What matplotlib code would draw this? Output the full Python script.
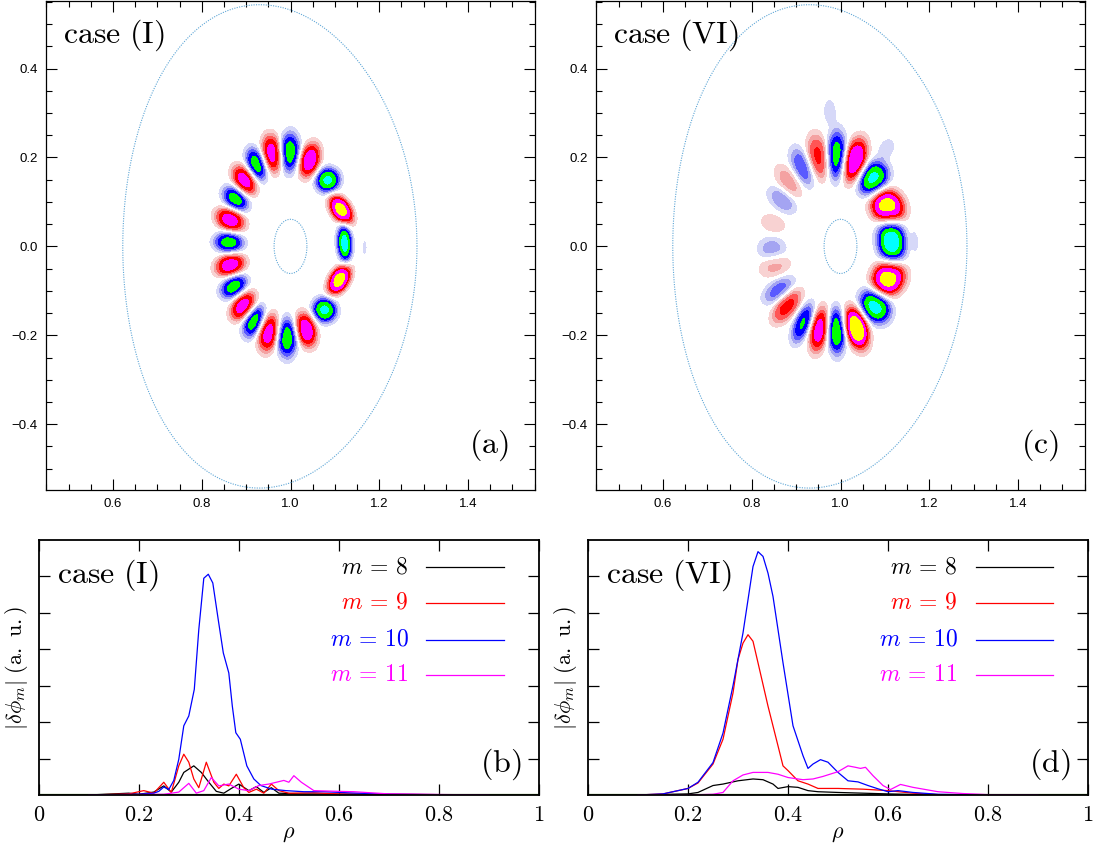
import numpy as np
import matplotlib
matplotlib.use("Agg")
import matplotlib.pyplot as plt
from matplotlib.colors import ListedColormap, BoundaryNorm

plt.rcParams['mathtext.fontset'] = 'cm'
plt.rcParams['font.family'] = ['Liberation Sans', 'DejaVu Sans']

# ---- poloidal mode structure: blob centres (R, Z), amplitude, radial / poloidal widths ----
c1_R = [0.998, 1.043, 1.084, 1.114, 1.122, 1.110, 1.077, 1.035, 0.992, 0.951,
        0.917, 0.893, 0.872, 0.864, 0.861, 0.864, 0.876, 0.896, 0.923, 0.959, 1.167]
c1_Z = [0.212, 0.194, 0.149, 0.082, 0.007, -0.075, -0.143, -0.188, -0.206, -0.195,
        -0.169, -0.134, -0.090, -0.042, 0.009, 0.060, 0.107, 0.149, 0.185, 0.209, -0.003]
c1_amp = [-0.72, 0.72, -0.85, 0.88, -0.90, 0.88, -0.85, 0.72, -0.72, 0.68,
          -0.70, 0.68, -0.70, 0.68, -0.70, 0.68, -0.70, 0.68, -0.70, 0.68, -0.14]
c1_sr = [0.028, 0.024, 0.018, 0.013, 0.011, 0.013, 0.018, 0.024, 0.028, 0.026,
         0.024, 0.022, 0.021, 0.021, 0.021, 0.021, 0.021, 0.022, 0.024, 0.026, 0.004]
c1_st = [0.015, 0.014, 0.017, 0.022, 0.026, 0.022, 0.017, 0.014, 0.015, 0.014,
         0.014, 0.014, 0.015, 0.015, 0.015, 0.015, 0.015, 0.014, 0.014, 0.014, 0.012]

c6_R = [0.991, 1.033, 1.074, 1.106, 1.115, 1.108, 1.078, 1.036, 0.991, 0.952,
        0.915, 0.879, 0.860, 0.852, 0.845, 0.848, 0.868, 0.883, 0.913, 0.950,
        0.976, 1.104, 1.168]
c6_Z = [0.206, 0.194, 0.153, 0.089, 0.011, -0.071, -0.135, -0.184, -0.191, -0.188,
        -0.173, -0.135, -0.098, -0.045, -0.004, 0.052, 0.104, 0.146, 0.179, 0.202,
        0.303, 0.221, 0.011]
c6_amp = [-0.70, 0.78, -0.85, 0.90, -0.95, 0.90, -0.88, 0.97, -0.75, 0.68,
          -0.62, 0.50, -0.38, 0.22, -0.26, 0.16, -0.30, 0.26, -0.42, 0.48,
          -0.18, -0.18, -0.16]
c6_sr = [0.038, 0.034, 0.028, 0.024, 0.022, 0.024, 0.028, 0.032, 0.036, 0.034,
         0.032, 0.030, 0.028, 0.024, 0.022, 0.020, 0.026, 0.028, 0.032, 0.034,
         0.020, 0.016, 0.006]
c6_st = [0.016, 0.017, 0.022, 0.028, 0.035, 0.028, 0.022, 0.017, 0.015, 0.014,
         0.014, 0.015, 0.016, 0.016, 0.018, 0.014, 0.016, 0.015, 0.016, 0.016,
         0.010, 0.012, 0.016]
c1_scale = 1.65
c6_scale = 1.5

# flux-surface shapes (outer boundary and inner surface)
outer_R0, outer_a, outer_kappa, outer_delta = 0.9535, 0.3315, 1.64, 0.071
inner_R0, inner_a, inner_b = 1.0, 0.037, 0.061

top_xticks = [0.6, 0.8, 1.0, 1.2, 1.4]
top_xticklabels = ['0.6', '0.8', '1.0', '1.2', '1.4']
top_yticks = [-0.4, -0.2, 0.0, 0.2, 0.4]
top_yticklabels = ['\u22120.4', '\u22120.2', '0.0', '0.2', '0.4']

levels = [-10, -0.97, -0.8, -0.6, -0.45, -0.32, -0.2, -0.08,
          0.08, 0.2, 0.32, 0.45, 0.6, 0.8, 0.97, 10]
level_colors = ['#ffffff', '#00ffff', '#00ff00', '#0000ff', '#5a5aff', '#a4a4f2', '#d6d8f8',
                '#ffffff',
                '#f8d2d2', '#f4a2a2', '#ff5555', '#ff0000', '#ff00ff', '#ffff00', '#ffffff']

# ---- radial mode amplitudes ----
modes = ['8', '9', '10', '11']
mode_colors = ['black', '#ff0000', '#0000ff', '#ff00ff']

c1_rho = {
    '8': [0.1, 0.18, 0.2, 0.23, 0.25, 0.265, 0.28, 0.29, 0.31, 0.325, 0.34, 0.355, 0.37,
          0.385, 0.4, 0.42, 0.435, 0.45, 0.465, 0.48, 0.52, 0.9],
    '9': [0.1, 0.18, 0.21, 0.23, 0.25, 0.265, 0.28, 0.29, 0.30, 0.31, 0.32, 0.335, 0.35,
          0.36, 0.37, 0.38, 0.395, 0.41, 0.42, 0.435, 0.45, 0.465, 0.48, 0.5, 0.55, 0.6, 0.9],
    '10': [0.1, 0.2, 0.23, 0.24, 0.25, 0.26, 0.27, 0.28, 0.29, 0.30, 0.311, 0.32, 0.33,
           0.339, 0.348, 0.359, 0.369, 0.38, 0.387, 0.394, 0.403, 0.416, 0.43, 0.444,
           0.466, 0.494, 0.53, 0.57, 0.62, 0.7, 0.9],
    '11': [0.1, 0.25, 0.28, 0.3, 0.315, 0.33, 0.345, 0.36, 0.38, 0.4, 0.42, 0.44, 0.46,
           0.475, 0.49, 0.5, 0.51, 0.525, 0.55, 0.6, 0.63, 0.7, 0.76, 0.9],
}
c1_amp_m = {
    '8': [0, 0.05, 0.02, 0.08, 0.25, 0.08, 0.35, 0.62, 0.8, 0.62, 0.35, 0.1, 0.05,
          0.18, 0.3, 0.12, 0.23, 0.07, 0.2, 0.05, 0.03, 0],
    '9': [0, 0.03, 0.12, 0.05, 0.35, 0.07, 0.8, 1.12, 0.9, 0.44, 0.2, 0.9, 0.35,
          0.18, 0.3, 0.25, 0.57, 0.2, 0.07, 0.16, 0.05, 0.3, 0.12, 0.05, 0.06, 0.03, 0],
    '10': [0, 0.02, 0.05, 0.1, 0.22, 0.15, 0.4, 0.98, 1.9, 2.17, 2.9, 4.54, 5.95,
           6.06, 5.82, 4.8, 3.9, 3.35, 2.44, 1.71, 1.53, 0.8, 0.44, 0.26,
           0.16, 0.12, 0.09, 0.09, 0.06, 0.02, 0],
    '11': [0, 0.02, 0.08, 0.32, 0.05, 0.12, 0.48, 0.25, 0.3, 0.16, 0.12, 0.26, 0.3,
           0.35, 0.4, 0.35, 0.53, 0.35, 0.12, 0.1, 0.09, 0.03, 0.02, 0],
}

c6_rho = {
    '8': [0.1, 0.2, 0.22, 0.25, 0.27, 0.3, 0.33, 0.35, 0.37, 0.38, 0.4, 0.42, 0.44,
          0.46, 0.5, 0.6, 0.7, 0.9],
    '9': [0.1, 0.15, 0.2, 0.22, 0.25, 0.27, 0.29, 0.3, 0.31, 0.32, 0.33, 0.34, 0.36,
          0.38, 0.39, 0.4, 0.42, 0.44, 0.46, 0.5, 0.55, 0.6, 0.65, 0.7, 0.9],
    '10': [0.1, 0.15, 0.2, 0.22, 0.25, 0.27, 0.29, 0.31, 0.32, 0.33, 0.34, 0.35, 0.36,
           0.37, 0.38, 0.39, 0.41, 0.43, 0.44, 0.45, 0.465, 0.48, 0.5, 0.52, 0.54,
           0.56, 0.58, 0.6, 0.62, 0.65, 0.7, 0.8, 0.9],
    '11': [0.1, 0.2, 0.25, 0.27, 0.29, 0.31, 0.33, 0.36, 0.38, 0.4, 0.43, 0.45, 0.47,
           0.5, 0.52, 0.535, 0.545, 0.555, 0.57, 0.59, 0.605, 0.625, 0.65, 0.7, 0.75,
           0.8, 0.9],
}
c6_amp_m = {
    '8': [0, 0.03, 0.07, 0.26, 0.3, 0.39, 0.44, 0.42, 0.3, 0.18, 0.23, 0.21, 0.12,
          0.09, 0.07, 0.03, 0.0, 0],
    '9': [0, 0.03, 0.18, 0.33, 0.85, 1.53, 2.8, 3.72, 4.17, 4.4, 4.22, 3.63, 2.44,
          1.35, 0.8, 0.67, 0.39, 0.3, 0.18, 0.18, 0.16, 0.12, 0.05, 0.01, 0],
    '10': [0, 0.03, 0.18, 0.35, 0.89, 1.7, 3.0, 4.45, 5.36, 6.27, 6.68, 6.55, 6.09,
           5.45, 4.54, 3.63, 1.9, 1.08, 0.73, 0.85, 0.97, 0.9, 0.62, 0.39, 0.36,
           0.26, 0.17, 0.09, 0.12, 0.07, 0.02, 0.0, 0],
    '11': [0, 0, 0.02, 0.07, 0.39, 0.55, 0.62, 0.62, 0.57, 0.48, 0.42, 0.44, 0.51,
           0.64, 0.8, 0.76, 0.73, 0.76, 0.53, 0.26, 0.15, 0.29, 0.21, 0.09, 0.04,
           0.01, 0],
}

bot_xticks = [0, 0.2, 0.4, 0.6, 0.8, 1]
bot_xticklabels = ['0', '0.2', '0.4', '0.6', '0.8', '1']
bot_yticks = [1, 2, 3, 4, 5, 6]


def mode_field(R, Z, bR, bZ, amp, sr, st, Rc, scale):
    field = np.zeros_like(R)
    for r0, z0, a, s1, s2 in zip(bR, bZ, amp, sr, st):
        ang = np.arctan2(z0, r0 - Rc)
        dR, dZ = R - r0, Z - z0
        dr = dR * np.cos(ang) + dZ * np.sin(ang)
        dt = -dR * np.sin(ang) + dZ * np.cos(ang)
        q = (dr / (s1 * scale)) ** 2 + (dt / (s2 * scale)) ** 2
        field += a * np.exp(-q ** 1.5)
    return field


def draw_surfaces(ax):
    t = np.linspace(0, 2 * np.pi, 600)
    ax.plot(outer_R0 + outer_a * np.cos(t + outer_delta * np.sin(t)),
            outer_kappa * outer_a * np.sin(t),
            color='#5ea6d6', lw=0.8, ls=(0, (1, 1.2)))
    ax.plot(inner_R0 + inner_a * np.cos(t), inner_b * np.sin(t),
            color='#5ea6d6', lw=0.8, ls=(0, (1, 1.2)))


W, H = 1096, 852
fig = plt.figure(figsize=(W / 100, H / 100), dpi=100)

def px_axes(x0, y0, x1, y1):
    return fig.add_axes([x0 / W, (H - y1) / H, (x1 - x0) / W, (y1 - y0) / H])

Rg, Zg = np.meshgrid(np.linspace(0.449, 1.551, 600), np.linspace(-0.548, 0.552, 600))
cmap = ListedColormap(level_colors)
norm = BoundaryNorm(levels, cmap.N)

top_specs = [
    (46, 535, (c1_R, c1_Z, c1_amp, c1_sr, c1_st), 0.99, c1_scale,
     r'$\mathrm{case\ (I)}$', r'$\mathrm{(a)}$'),
    (596, 1085, (c6_R, c6_Z, c6_amp, c6_sr, c6_st), 0.985, c6_scale,
     r'$\mathrm{case\ (VI)}$', r'$\mathrm{(c)}$'),
]
for x0, x1, blobs, Rc, sc, title, tag in top_specs:
    ax = px_axes(x0, 1, x1, 490)
    f = mode_field(Rg, Zg, *blobs, Rc, sc)
    ax.contourf(Rg, Zg, f, levels=levels, cmap=cmap, norm=norm)
    draw_surfaces(ax)
    ax.set_xlim(0.449, 1.551)
    ax.set_ylim(-0.548, 0.552)
    ax.set_xticks(top_xticks)
    ax.set_xticklabels(top_xticklabels)
    ax.set_yticks(top_yticks)
    ax.set_yticklabels(top_yticklabels)
    ax.set_xticks(np.arange(0.45, 1.551, 0.05), minor=True)
    ax.set_yticks(np.arange(-0.5, 0.551, 0.05), minor=True)
    ax.tick_params(which='both', direction='in', top=True, right=True, width=0.8)
    ax.tick_params(which='major', length=8, labelsize=9.5, pad=6)
    ax.tick_params(which='minor', length=4.5)
    for s in ax.spines.values():
        s.set_linewidth(0.9)
    ax.text(0.035, 0.93, title, transform=ax.transAxes, fontsize=23, va='center', ha='left')
    ax.text(0.947, 0.092, tag, transform=ax.transAxes, fontsize=23, va='center', ha='right')

bot_specs = [
    (38.7, 539, c1_rho, c1_amp_m, r'$\mathrm{case\ (I)}$', r'$\mathrm{(b)}$'),
    (588, 1088, c6_rho, c6_amp_m, r'$\mathrm{case\ (VI)}$', r'$\mathrm{(d)}$'),
]
for x0, x1, rho_d, amp_d, title, tag in bot_specs:
    ax = px_axes(x0, 540, x1, 795)
    ax.plot([0, 1], [0, 0], color='#2f6b00', lw=1.6, zorder=1)
    for m, col in zip(modes, mode_colors):
        ax.plot(rho_d[m], amp_d[m], color=col, lw=0.9, zorder=2)
    ax.set_xlim(0, 1)
    ax.set_ylim(0, 7)
    ax.set_xticks(bot_xticks)
    ax.set_xticklabels(['$' + s + '$' for s in bot_xticklabels])
    ax.set_yticks(bot_yticks)
    ax.set_yticklabels([])
    ax.tick_params(which='both', direction='in', top=True, right=True, length=8,
                   width=0.9, labelsize=16, pad=7)
    for s in ax.spines.values():
        s.set_linewidth(1.3)
    ax.set_xlabel(r'$\rho$', fontsize=16, labelpad=-2)
    ax.set_ylabel(r'$|\delta\phi_m|\ (\mathrm{a.\ u.})$', fontsize=16)
    ax.yaxis.set_label_coords(-0.018, 0.5)
    ax.text(0.037, 0.86, title, transform=ax.transAxes, fontsize=23, va='center', ha='left')
    ax.text(0.965, 0.12, tag, transform=ax.transAxes, fontsize=23, va='center', ha='right')
    rows = [0.894, 0.753, 0.608, 0.471]
    for m, col, yy in zip(modes, mode_colors, rows):
        ax.text(0.739, yy, r'$m\,=\,' + m + '$', transform=ax.transAxes, fontsize=17,
                color=col, ha='right', va='center')
        ax.plot([0.775, 0.93], [yy, yy], transform=ax.transAxes, color=col, lw=0.9)

fig.savefig('out.png', dpi=100)
